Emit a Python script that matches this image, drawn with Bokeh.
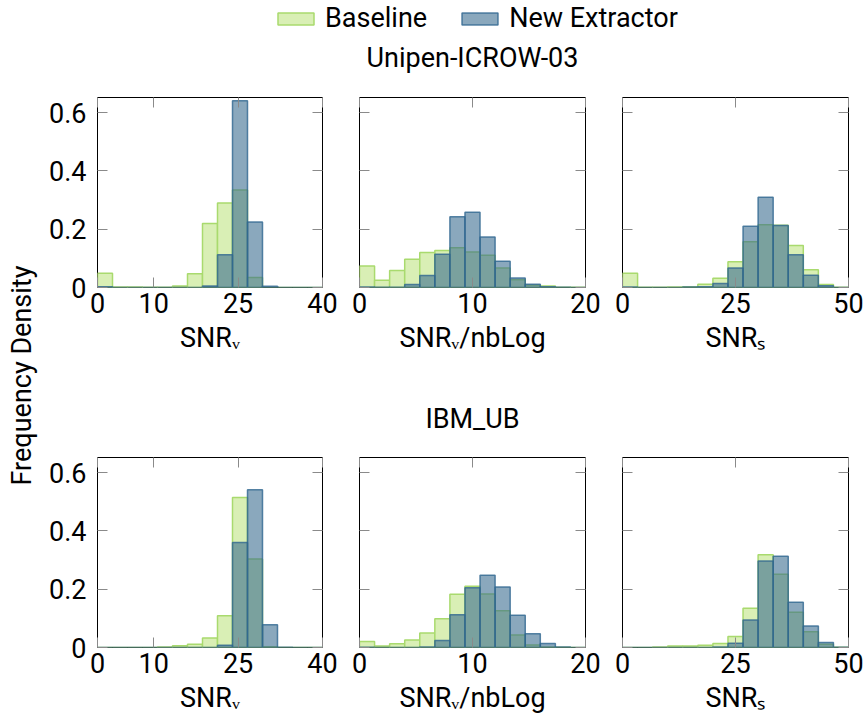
import numpy as np
from bokeh.plotting import figure
from bokeh.models import Range1d, LinearAxis, FixedTicker, Title, Legend, LegendItem, Label
from bokeh.layouts import column, row
from bokeh.embed import file_html
from bokeh.resources import INLINE

# ---------------------------------------------------------------- data
series_names = ["Baseline", "New Extractor"]
dataset_titles = ["Unipen-ICROW-03", "IBM_UB"]
metric_labels = ["SNR\u1d65", "SNR\u1d65/nbLog", "SNR\u209b"]
x_max = [40, 20, 50]
x_ticks = [[0, 10, 25, 40], [0, 10, 20], [0, 25, 50]]
y_ticks = [0, 0.2, 0.4, 0.6]
y_top = 0.652
n_bins = 15

# Unipen-ICROW-03 (fraction of samples per bin)
unipen_snr_v_base = [0.049, 0.002, 0.002, 0.001, 0.001, 0.005, 0.047, 0.220, 0.290, 0.335, 0.034, 0, 0, 0, 0]
unipen_snr_v_new = [0.003, 0, 0, 0, 0, 0, 0, 0.005, 0.112, 0.641, 0.225, 0.004, 0, 0, 0]
unipen_snr_nb_base = [0.074, 0.025, 0.058, 0.097, 0.120, 0.127, 0.136, 0.122, 0.111, 0.067, 0.027, 0.008, 0.005, 0.001, 0.001]
unipen_snr_nb_new = [0.002, 0.001, 0.001, 0.010, 0.041, 0.114, 0.243, 0.258, 0.173, 0.090, 0.033, 0.011, 0.003, 0.001, 0]
unipen_snr_s_base = [0.049, 0.001, 0.001, 0.002, 0.003, 0.011, 0.032, 0.088, 0.157, 0.215, 0.214, 0.144, 0.061, 0.010, 0.001]
unipen_snr_s_new = [0.002, 0, 0, 0, 0.002, 0.003, 0.014, 0.067, 0.210, 0.310, 0.213, 0.112, 0.042, 0.006, 0]

# IBM_UB
ibm_snr_v_base = [0, 0, 0, 0, 0.002, 0.006, 0.011, 0.033, 0.109, 0.515, 0.304, 0.003, 0, 0, 0]
ibm_snr_v_new = [0, 0, 0, 0, 0, 0, 0, 0, 0.008, 0.360, 0.541, 0.078, 0.001, 0, 0]
ibm_snr_nb_base = [0.021, 0.005, 0.013, 0.026, 0.050, 0.099, 0.183, 0.210, 0.184, 0.126, 0.043, 0.009, 0.002, 0.001, 0]
ibm_snr_nb_new = [0.001, 0, 0, 0, 0.002, 0.024, 0.112, 0.205, 0.248, 0.208, 0.111, 0.047, 0.014, 0.002, 0]
ibm_snr_s_base = [0, 0, 0.002, 0.005, 0.005, 0.008, 0.014, 0.038, 0.135, 0.318, 0.251, 0.121, 0.054, 0.011, 0.001]
ibm_snr_s_new = [0, 0, 0, 0, 0, 0, 0.002, 0.015, 0.094, 0.297, 0.313, 0.155, 0.074, 0.017, 0.001]

panels = [
    [(unipen_snr_v_base, unipen_snr_v_new), (unipen_snr_nb_base, unipen_snr_nb_new), (unipen_snr_s_base, unipen_snr_s_new)],
    [(ibm_snr_v_base, ibm_snr_v_new), (ibm_snr_nb_base, ibm_snr_nb_new), (ibm_snr_s_base, ibm_snr_s_new)],
]

# ---------------------------------------------------------------- style
FONT = "Roboto"
FS = "27px"
GREEN = dict(fill_color="#d9efb5", fill_alpha=1.0, line_color="#a9da6e", line_width=1.5)
BLUE = dict(fill_color="#35698d", fill_alpha=0.58, line_color="#2f6690", line_alpha=0.8, line_width=1.5)

HEADER_H = 80
FRAME_W, FRAME_H = 226, 190
LEFT_B = [50, 19, 19]
RIGHT_B = [18, 18, 19]
TOP_B = [17, 82]
BOTTOM_B = [88, 80]


def style_axis(ax, ticks, show_labels):
    ax.ticker = FixedTicker(ticks=ticks)
    ax.major_tick_in = 10
    ax.major_tick_out = 0
    ax.minor_tick_in = 0
    ax.minor_tick_out = 0
    ax.axis_line_color = None
    ax.major_tick_line_color = "#8a8a8a"
    ax.major_tick_line_width = 1
    ax.major_label_text_font = FONT
    if show_labels:
        ax.major_label_text_font_size = FS
        ax.major_label_text_color = "black"
    else:
        # tick marks only: labels are neither drawn nor given room
        ax.major_label_text_font_size = "1px"
        ax.major_label_text_color = None
        ax.major_label_standoff = 0


def make_panel(ri, ci):
    base, new = panels[ri][ci]
    p = figure(
        width=LEFT_B[ci] + FRAME_W + RIGHT_B[ci],
        height=TOP_B[ri] + FRAME_H + BOTTOM_B[ri],
        min_border_left=LEFT_B[ci], min_border_right=RIGHT_B[ci],
        min_border_top=TOP_B[ri], min_border_bottom=BOTTOM_B[ri],
        x_range=Range1d(0, x_max[ci]), y_range=Range1d(0, y_top),
        toolbar_location=None, output_backend="svg", title=None,
    )
    p.grid.visible = False
    p.outline_line_color = "black"
    p.outline_line_width = 1
    p.outline_line_alpha = 1.0
    p.background_fill_color = "white"
    p.border_fill_color = "white"

    edges = np.linspace(0, x_max[ci], n_bins + 1)
    p.quad(left=edges[:-1], right=edges[1:], bottom=0, top=base, **GREEN)
    p.quad(left=edges[:-1], right=edges[1:], bottom=0, top=new, **BLUE)

    # bottom x axis with labels
    xa = p.xaxis[0]
    style_axis(xa, x_ticks[ci], True)
    xa.major_label_standoff = 5
    xa.axis_label = metric_labels[ci]
    xa.axis_label_text_font = FONT
    xa.axis_label_text_font_size = FS
    xa.axis_label_text_font_style = "normal"
    xa.axis_label_text_color = "black"
    xa.axis_label_standoff = 6

    # left y axis, labelled only in the first column
    ya = p.yaxis[0]
    style_axis(ya, y_ticks, ci == 0)
    if ci == 0:
        ya.major_label_standoff = 11
        ya.major_label_overrides = {0: "0"}

    # mirrored ticks on the top and right edges
    top_ax = LinearAxis()
    style_axis(top_ax, x_ticks[ci], False)
    p.add_layout(top_ax, "above")
    right_ax = LinearAxis()
    style_axis(right_ax, y_ticks, False)
    p.add_layout(right_ax, "right")

    # second row carries its dataset name above the middle panel
    if ri == 1 and ci == 1:
        p.add_layout(Title(text=dataset_titles[ri], align="center", text_font=FONT,
                           text_font_size=FS, text_font_style="normal",
                           text_color="black", standoff=46), "above")
    return p


grid_rows = [row(*[make_panel(ri, ci) for ci in range(3)]) for ri in range(2)]

# shared y label
ylab = figure(width=46, height=727 - HEADER_H, min_border_left=40, min_border_right=0,
              min_border_top=0, min_border_bottom=57,
              x_range=Range1d(0, 1), y_range=Range1d(0, 1),
              x_axis_location=None, y_axis_location=None,
              toolbar_location=None, output_backend="svg", title=None)
ylab.outline_line_color = None
ylab.grid.visible = False
ylab.add_layout(Title(text="Frequency Density", align="center", text_font=FONT,
                      text_font_size=FS, text_font_style="normal",
                      text_color="black", standoff=6), "left")

# header: legend and the first dataset name; the key renderers hold a single
# empty (NaN) row so that only their legend swatches show
hdr = figure(width=867, height=HEADER_H, min_border=0,
             x_range=Range1d(0, 1), y_range=Range1d(0, 1),
             x_axis_location=None, y_axis_location=None,
             toolbar_location=None, output_backend="svg", title=None)
hdr.outline_line_color = None
hdr.grid.visible = False
nan = [float("nan")]
g_key = hdr.quad(left=nan, right=nan, top=nan, bottom=nan, **GREEN)
b_key = hdr.quad(left=nan, right=nan, top=nan, bottom=nan, **BLUE)
legend = Legend(
    items=[LegendItem(label=series_names[0], renderers=[g_key]),
           LegendItem(label=series_names[1], renderers=[b_key])],
    orientation="horizontal", location=(273, HEADER_H - 34),
    glyph_width=45, glyph_height=15, label_standoff=7, spacing=30,
    padding=0, margin=0, border_line_color=None, background_fill_alpha=0,
    label_text_font=FONT, label_text_font_size=FS, label_text_color="black",
)
hdr.add_layout(legend)
hdr.add_layout(Label(x=472, y=23, x_units="screen", y_units="screen",
                     text=dataset_titles[0], text_align="center",
                     text_baseline="alphabetic", text_font=FONT,
                     text_font_size=FS, text_color="black"))

layout = column(hdr, row(ylab, column(*grid_rows)))

open("out.html", "w").write(file_html(layout, INLINE))
